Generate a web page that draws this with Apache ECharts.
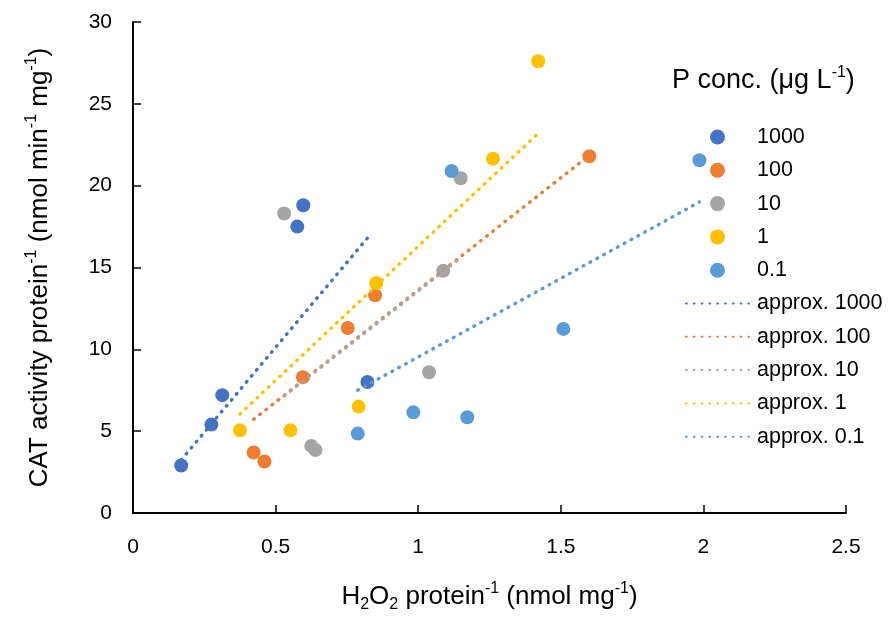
<!DOCTYPE html>
<html>
<head>
<meta charset="utf-8">
<script src="https://cdn.jsdelivr.net/npm/echarts@6/dist/echarts.min.js"></script>
<style>
  html, body { margin: 0; padding: 0; background: #fff; }
  #chart { width: 888px; height: 618px; }
</style>
</head>
<body>
<div id="chart"></div>
<script>
// Group labels (P concentration, µg L-1)
const groups = ['1000', '100', '10', '1', '0.1'];
const colors = ['#4472C4', '#ED7D31', '#A5A5A5', '#FFC000', '#5B9BD5'];

// H2O2 protein-1 (x) and CAT activity protein-1 (y) per group
const x1000 = [0.169, 0.275, 0.313, 0.576, 0.597, 0.822];
const y1000 = [2.9, 5.4, 7.2, 17.5, 18.8, 8.0];
const x100 = [0.423, 0.461, 0.596, 0.753, 0.849, 1.600];
const y100 = [3.7, 3.15, 8.3, 11.3, 13.3, 21.8];
const x10 = [0.530, 0.625, 0.640, 1.038, 1.088, 1.149];
const y10 = [18.3, 4.1, 3.85, 8.6, 14.8, 20.45];
const x1 = [0.375, 0.552, 0.791, 0.853, 1.262, 1.421];
const y1 = [5.05, 5.05, 6.5, 14.05, 21.65, 27.6];
const x01 = [0.788, 0.983, 1.117, 1.172, 1.509, 1.986];
const y01 = [4.85, 6.15, 20.9, 5.85, 11.25, 21.55];

// Linear trend line end points per group
const t1000X = [0.169, 0.822], t1000Y = [3.25, 16.8];
const t100X = [0.423, 1.600], t100Y = [5.72, 21.85];
const t10X = [0.530, 1.149], t10Y = [7.15, 15.6];
const t1X = [0.375, 1.421], t1Y = [6.05, 23.2];
const t01X = [0.788, 1.986], t01Y = [7.5, 19.0];

// Axis ticks
const xTicks = { min: 0, max: 2.5, interval: 0.5 };
const yTicks = { min: 0, max: 30, interval: 5 };

const pointsX = [x1000, x100, x10, x1, x01];
const pointsY = [y1000, y100, y10, y1, y01];
const trendX = [t1000X, t100X, t10X, t1X, t01X];
const trendY = [t1000Y, t100Y, t10Y, t1Y, t01Y];

const zip = (xs, ys) => xs.map((v, i) => [v, ys[i]]);
const FONT = '"Liberation Sans", Arial, sans-serif';
const DOTS = { width: 3.4, type: [0.8, 7], cap: 'round' };

const series = [];
groups.forEach((g, i) => {
  series.push({
    name: g,
    type: 'scatter',
    data: zip(pointsX[i], pointsY[i]),
    symbol: 'circle',
    symbolSize: 14,
    itemStyle: { color: colors[i], opacity: 1 },
    emphasis: { disabled: true },
    z: 2
  });
});
groups.forEach((g, i) => {
  series.push({
    name: 'approx. ' + g,
    type: 'line',
    data: zip(trendX[i], trendY[i]),
    symbol: 'none',
    showSymbol: false,
    itemStyle: { color: colors[i] },
    lineStyle: Object.assign({ color: colors[i] }, DOTS),
    emphasis: { disabled: true },
    z: 3
  });
});

// Dots for the scatter groups, plain dotted strokes for the trend lines
const legendData = groups.map(g => ({ name: g, icon: 'circle' }))
  .concat(groups.map(g => ({ name: 'approx. ' + g, itemStyle: { opacity: 0 } })));

const titleSize = 26;
const supStyle = { fontSize: 16, fontFamily: FONT, color: '#000', verticalAlign: 'top', lineHeight: 32 };
const subStyle = { fontSize: 16, fontFamily: FONT, color: '#000', verticalAlign: 'bottom', lineHeight: 32 };
const baseStyle = { fontSize: titleSize, fontFamily: FONT, color: '#000', lineHeight: 32 };

const chart = echarts.init(document.getElementById('chart'), null, { renderer: 'canvas' });
chart.setOption({
  animation: false,
  backgroundColor: '#fff',
  textStyle: { fontFamily: FONT },
  grid: { left: 133, right: 42, top: 22, bottom: 97, containLabel: false },
  xAxis: {
    type: 'value',
    min: xTicks.min, max: xTicks.max, interval: xTicks.interval,
    splitLine: { show: false },
    axisLine: { show: true, onZero: false, lineStyle: { color: '#000', width: 2 } },
    axisTick: { show: true, inside: true, length: 8, lineStyle: { color: '#000', width: 1.5 } },
    axisLabel: { color: '#000', fontSize: 21, fontFamily: FONT, margin: 24 },
    name: '{b|H}{s|2}{b|O}{s|2}{b| protein}{p|-1}{b| (nmol mg}{p|-1}{b|)}',
    nameLocation: 'middle',
    nameGap: 68,
    nameTextStyle: { rich: { b: baseStyle, s: subStyle, p: supStyle } }
  },
  yAxis: {
    type: 'value',
    min: yTicks.min, max: yTicks.max, interval: yTicks.interval,
    splitLine: { show: false },
    axisLine: { show: true, onZero: false, lineStyle: { color: '#000', width: 2 } },
    axisTick: { show: true, inside: true, length: 8, lineStyle: { color: '#000', width: 1.5 } },
    axisLabel: { color: '#000', fontSize: 21, fontFamily: FONT, margin: 21 },
    name: '{b|CAT activity protein}{p|-1}{b| (nmol min}{p|-1}{b| mg}{p|-1}{b|)}',
    nameLocation: 'middle',
    nameGap: 77,
    nameTextStyle: { rich: { b: baseStyle, p: supStyle } }
  },
  legend: {
    orient: 'vertical',
    left: 685,
    top: 126,
    padding: 0,
    itemWidth: 63,
    itemHeight: 15,
    itemGap: 11.3,
    data: legendData,
    selectedMode: false,
    textStyle: { fontSize: 21.5, fontFamily: FONT, color: '#000', padding: [0, 0, 0, 3] }
  },
  graphic: [{
    type: 'text',
    left: 672,
    top: 65,
    style: {
      text: '{b|P conc. (μg L}{p|-1}{b|)}',
      rich: {
        b: { fontSize: 27, fontFamily: FONT, color: '#000', lineHeight: 32 },
        p: { fontSize: 16, fontFamily: FONT, color: '#000', verticalAlign: 'top', lineHeight: 32 }
      }
    }
  }],
  series: series
});
</script>
</body>
</html>
